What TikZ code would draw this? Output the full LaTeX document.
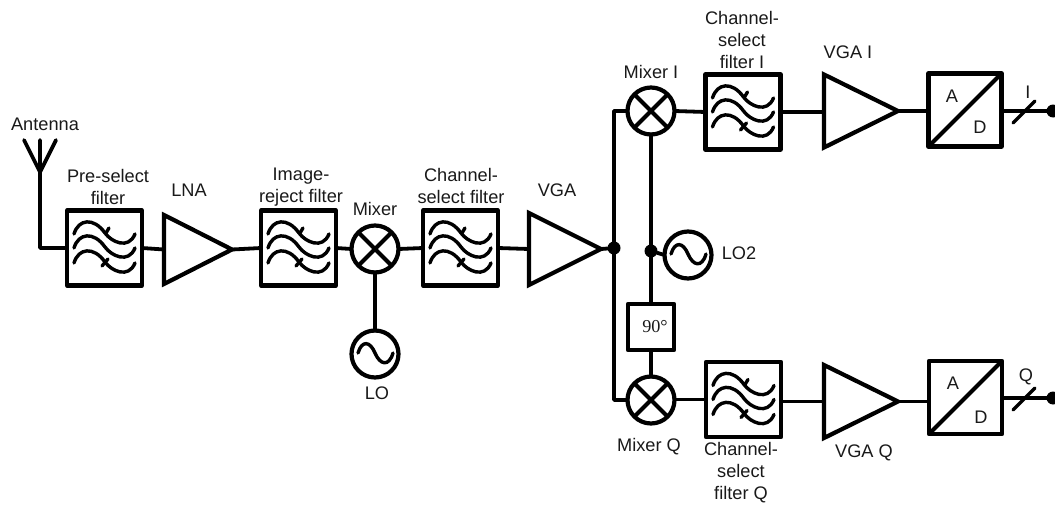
\documentclass[tikz,border=0pt]{standalone}
\usepackage{fontspec}
\setmainfont{Liberation Sans}
\newfontfamily\serifnum{Liberation Serif}
\tikzset{
  x=1pt,y=-1pt,
  wire/.style={line width=3.8pt,line cap=round,line join=round},
  boxn/.style={draw,rectangle,line width=4.2pt,inner sep=0pt,outer sep=0pt,line join=round},
  ampn/.style={rectangle,inner sep=0pt,outer sep=0pt},
  circn/.style={draw,circle,line width=4.2pt,inner sep=0pt,outer sep=0pt,minimum size=47pt},
  dotn/.style={circle,fill=black,inner sep=0pt,outer sep=0pt,minimum size=13pt},
  lab/.style={font=\fontsize{18.2}{22}\selectfont,align=center,inner sep=0pt,text=black!90},
  sym/.style={line width=3.4pt,line cap=round},
}
% filter: name, cx, cy
\newcommand{\filterblock}[3]{%
  \node[boxn,minimum width=75pt,minimum height=75pt] (#1) at (#2,#3) {};
  \begin{scope}[shift={(#2,#3)}]
    \foreach \a in {-14,0,15}{
      \draw[sym] (-30.5,\a) .. controls (-26,\a-15) and (-11,\a-17) .. (0.5,\a-1)
                 .. controls (7,\a+8) and (24,\a+16) .. (30.5,\a);
    }
    \draw[sym] (4.5,-20) -- (1.5,-15);
    \draw[sym] (3.5,11) -- (-2.5,18);
  \end{scope}}
% amplifier: name, cx, cy, width, height
\newcommand{\ampblock}[5]{%
  \node[ampn,minimum width=#4pt,minimum height=#5pt] (#1) at (#2,#3) {};
  \draw[line width=4.2pt,line join=miter] (#1.north west) -- (#1.east) -- (#1.south west) -- cycle;}
% mixer: name, cx, cy
\newcommand{\mixerblock}[3]{%
  \node[circn] (#1) at (#2,#3) {};
  \draw[line width=4.2pt] (#1.north west) -- (#1.south east) (#1.north east) -- (#1.south west);}
% oscillator: name, cx, cy
\newcommand{\oscblock}[3]{%
  \node[circn] (#1) at (#2,#3) {};
  \begin{scope}[shift={(#2,#3)}]
    \draw[sym] (-17,-1) .. controls (-13,-14) and (-5,-13) .. (0,-1)
               .. controls (5,11) and (14,13) .. (18,-1);
  \end{scope}}
% converter: name, cx, cy
\newcommand{\adcblock}[3]{%
  \node[boxn,minimum width=73pt,minimum height=73pt] (#1) at (#2,#3) {};
  \draw[line width=4.2pt] (#1.south west) -- (#1.north east);}
\begin{document}
\begin{tikzpicture}
\useasboundingbox (0,0) rectangle (1055,506);

% blocks
\filterblock{f1}{104.5}{248}
\ampblock{lna}{198}{249.5}{68}{69}
\filterblock{f2}{298.5}{248}
\mixerblock{mix}{375}{249}
\oscblock{lo}{375}{354}
\filterblock{f3}{460.5}{248}
\ampblock{vga}{565}{249}{72}{72}
\node[dotn] (split) at (614,248) {};
\mixerblock{mi}{651}{111}
\mixerblock{mq}{651}{400}
\filterblock{fi}{743}{112}
\filterblock{fq}{743.5}{399.5}
\ampblock{vi}{861}{111}{74}{73}
\ampblock{vq}{861}{401.5}{74}{73}
\adcblock{ai}{965}{110}
\adcblock{aq}{965.5}{397.5}
\node[dotn] (lotap) at (651,251) {};
\oscblock{lotwo}{688}{255}
\node[boxn,minimum width=46pt,minimum height=46pt] (ph) at (651,327) {};
\node[lab,font=\serifnum\fontsize{18.2}{22}\selectfont] (phl) at (655,327) {90°};
\node[dotn] (oi) at (1053,111) {};
\node[dotn] (oq) at (1053,398) {};

% antenna
\coordinate (antb) at (40,172);
\coordinate (antc) at (40,140);
\coordinate (antl) at (24,140);
\coordinate (antr) at (56,140);
\coordinate (antk) at (40,248);
\draw[wire] (antl) -- (antb) -- (antr) (antc) -- (antb) -- (antk) -- (f1.west);

% connectors
\draw[wire] (f1.east) -- (lna.west);
\draw[wire] (lna.east) -- (f2.west);
\draw[wire] (f2.east) -- (mix.west);
\draw[wire] (mix.east) -- (f3.west);
\draw[wire] (f3.east) -- (vga.west);
\draw[wire] (vga.east) -- (split);
\draw[wire] (mix.south) -- (lo.north);
\draw[wire] (mi.west) -| (split.center) |- (mq.west);
\draw[wire] (mi.south) -- (lotap.center) -- (ph.north);
\draw[wire] (lotap) -- (lotwo.west);
\draw[wire] (ph.south) -- (mq.north);
\draw[wire] (mi.east) -- (fi.west);
\draw[wire] (mq.east |- fq.west) -- (fq.west);
\draw[wire] (fi.east) -- (fi.east -| vi.west);
\draw[wire] (vi.east) -- (vi.east -| ai.west);
\draw[wire] (ai.east |- oi) -- (oi);
\draw[wire] (fq.east |- vq.west) -- (vq.west);
\draw[wire] (vq.east) -- (vq.east -| aq.west);
\draw[wire] (aq.east |- oq) -- (oq);
\coordinate (si1) at (1013,123); \coordinate (si2) at (1035,101);
\coordinate (sq1) at (1013,410); \coordinate (sq2) at (1035,388);
\draw[sym] (si1) -- (si2);
\draw[sym] (sq1) -- (sq2);

% labels
\node[lab] (tant) at (45,124) {Antenna};
\node[lab] (tf1) at (108,187) {Pre-select\\filter};
\node[lab] (tlna) at (189,190) {LNA};
\node[lab] (tf2) at (301,187) {Image-\\reject filter};
\node[lab] (tmix) at (375,209) {Mixer};
\node[lab] (tf3) at (461,186) {Channel-\\select filter};
\node[lab] (tvga) at (557,190) {VGA};
\node[lab] (tlo) at (377,393) {LO};
\node[lab] (tlo2) at (739,253) {LO2};
\node[lab] (tmi) at (651,72) {Mixer I};
\node[lab] (tmq) at (649,447) {Mixer Q};
\node[lab] (tfi) at (742,39.5) {Channel-\\select\\filter I};
\node[lab] (tfq) at (741,473) {Channel-\\select\\filter Q};
\node[lab] (tvi) at (848,52) {VGA I};
\node[lab] (tvq) at (864,453) {VGA Q};
\node[lab] (tai) at (952,96) {A};
\node[lab] (tdi) at (980,127) {D};
\node[lab] (taq) at (953,383) {A};
\node[lab] (tdq) at (981,417) {D};
\node[lab] (toi) at (1028,92) {I};
\node[lab] (toq) at (1026,377) {Q};
\end{tikzpicture}
\end{document}
